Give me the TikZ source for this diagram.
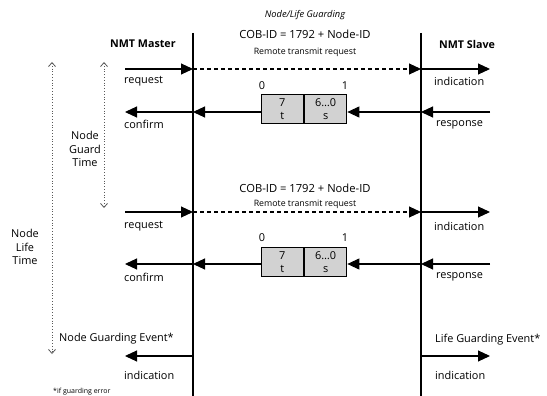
\documentclass[tikz,border=0pt]{standalone}
\usepackage{fontspec}
\setmainfont{Open Sans}
\usetikzlibrary{arrows.meta,positioning}

\tikzset{
  lifeline/.style={line width=2.4pt},
  msg/.style={line width=1.1pt,-{Triangle[length=12pt,width=11pt]}},
  rtr/.style={line width=1.1pt,dashed,dash pattern=on 4pt off 3pt,-{Triangle[length=12pt,width=11pt]}},
  span/.style={line width=0.8pt,dotted,gray!70!black,{Straight Barb[length=4pt,width=7pt]}-{Straight Barb[length=4pt,width=7pt]}},
  lbl/.style={font=\fontsize{10.9}{13.5}\selectfont,inner sep=0pt},
  head/.style={font=\fontsize{10.7}{12}\selectfont\bfseries,inner sep=0pt},
  small/.style={font=\fontsize{8.8}{10}\selectfont,inner sep=0pt},
  cob/.style={font=\fontsize{11.2}{13}\selectfont,inner sep=0pt},
  field/.style={draw,line width=0.9pt,fill=gray!35,minimum width=42.5pt,minimum height=29pt,inner sep=0pt,align=center,font=\fontsize{10.9}{13}\selectfont},
}

\begin{document}
\begin{tikzpicture}[x=1pt,y=-1pt]
\useasboundingbox (0,0) rectangle (547,396);

% lifelines of master and slave
\coordinate (mT) at (193,33);
\coordinate (mB) at (193,398);
\coordinate (sT) at (421,33);
\coordinate (sB) at (421,398);
\draw[lifeline] (mT) -- (mB);
\draw[lifeline] (sT) -- (sB);

% headings
\node[font=\fontsize{9.3}{10}\selectfont\itshape,inner sep=0pt] (title) at (305,15) {Node/Life Guarding};
\node[cob] (cob1) at (305,34) {COB-ID = 1792 + Node-ID};
\node[small] (rtr1) at (305,52) {Remote transmit request};
\node[head,anchor=west] (master) at (110,44) {NMT Master};
\node[head,anchor=west] (slave) at (439,44) {NMT Slave};

% first guarding cycle: remote request
\coordinate (q1a) at (125,69);
\coordinate (q1m) at (193,69);
\coordinate (q1s) at (421,69);
\coordinate (q1e) at (490,69);
\draw[msg] (q1a) -- (q1m);
\draw[rtr] (q1m) -- (q1s);
\draw[msg] (q1s) -- (q1e);
\node[lbl,anchor=west] (req1) at (124,81) {request};
\node[lbl,anchor=west] (ind1) at (434,81) {indication};

% first guarding cycle: response frame
\node[field] (t1) at (282.25,109) {7\\t};
\node[field,right=0pt of t1] (s1) {6…0\\s};
\node[lbl] (z1) at (262,86) {0};
\node[lbl] (o1) at (345,86) {1};
\coordinate (p1a) at (125,112);
\coordinate (p1m) at (193,112);
\coordinate (p1s) at (421,112);
\coordinate (p1e) at (490,112);
\draw[msg] (p1e) -- (p1s);
\draw[msg] (p1s) -- (s1.east |- p1s);
\draw[msg] (t1.west |- p1m) -- (p1m);
\draw[msg] (p1m) -- (p1a);
\node[lbl,anchor=west] (conf1) at (124,124) {confirm};
\node[lbl,anchor=west] (resp1) at (436,125) {response};

% second guarding cycle: remote request
\node[cob] (cob2) at (305,188) {COB-ID = 1792 + Node-ID};
\node[small] (rtr2) at (305,204) {Remote transmit request};
\coordinate (q2a) at (125,212);
\coordinate (q2m) at (193,212);
\coordinate (q2s) at (421,212);
\coordinate (q2e) at (490,212);
\draw[msg] (q2a) -- (q2m);
\draw[rtr] (q2m) -- (q2s);
\draw[msg] (q2s) -- (q2e);
\node[lbl,anchor=west] (req2) at (124,226) {request};
\node[lbl,anchor=west] (ind2) at (434,226) {indication};

% second guarding cycle: response frame
\node[field] (t2) at (282.25,262) {7\\t};
\node[field,right=0pt of t2] (s2) {6…0\\s};
\node[lbl] (z2) at (262,238) {0};
\node[lbl] (o2) at (345,238) {1};
\coordinate (p2a) at (125,264);
\coordinate (p2m) at (193,264);
\coordinate (p2s) at (421,264);
\coordinate (p2e) at (490,264);
\draw[msg] (p2e) -- (p2s);
\draw[msg] (p2s) -- (s2.east |- p2s);
\draw[msg] (t2.west |- p2m) -- (p2m);
\draw[msg] (p2m) -- (p2a);
\node[lbl,anchor=west] (conf2) at (124,277) {confirm};
\node[lbl,anchor=west] (resp2) at (436,277) {response};

% guarding events
\coordinate (e1a) at (125,356);
\coordinate (e1m) at (193,356);
\coordinate (e1s) at (421,356);
\coordinate (e1e) at (490,356);
\draw[msg] (e1m) -- (e1a);
\draw[msg] (e1s) -- (e1e);
\node[lbl,anchor=west] (nge) at (59,339) {Node Guarding Event*};
\node[lbl,anchor=west] (lge) at (435,340) {Life Guarding Event*};
\node[lbl,anchor=west] (ind3) at (124,375) {indication};
\node[lbl,anchor=west] (ind4) at (435,375) {indication};
\node[font=\fontsize{7}{8}\selectfont,inner sep=0pt,anchor=base west] (note) at (53,393) {*if guarding error};

% time spans
\coordinate (gtT) at (104,62);
\coordinate (gtB) at (104,208);
\draw[span] (gtT) -- (gtB);
\node[lbl,align=center] (gt) at (85,149) {Node\\Guard\\Time};
\coordinate (ltT) at (52,62);
\coordinate (ltB) at (52,354);
\draw[span] (ltT) -- (ltB);
\node[lbl,align=center] (lt) at (25,247) {Node\\Life\\Time};
\end{tikzpicture}
\end{document}
